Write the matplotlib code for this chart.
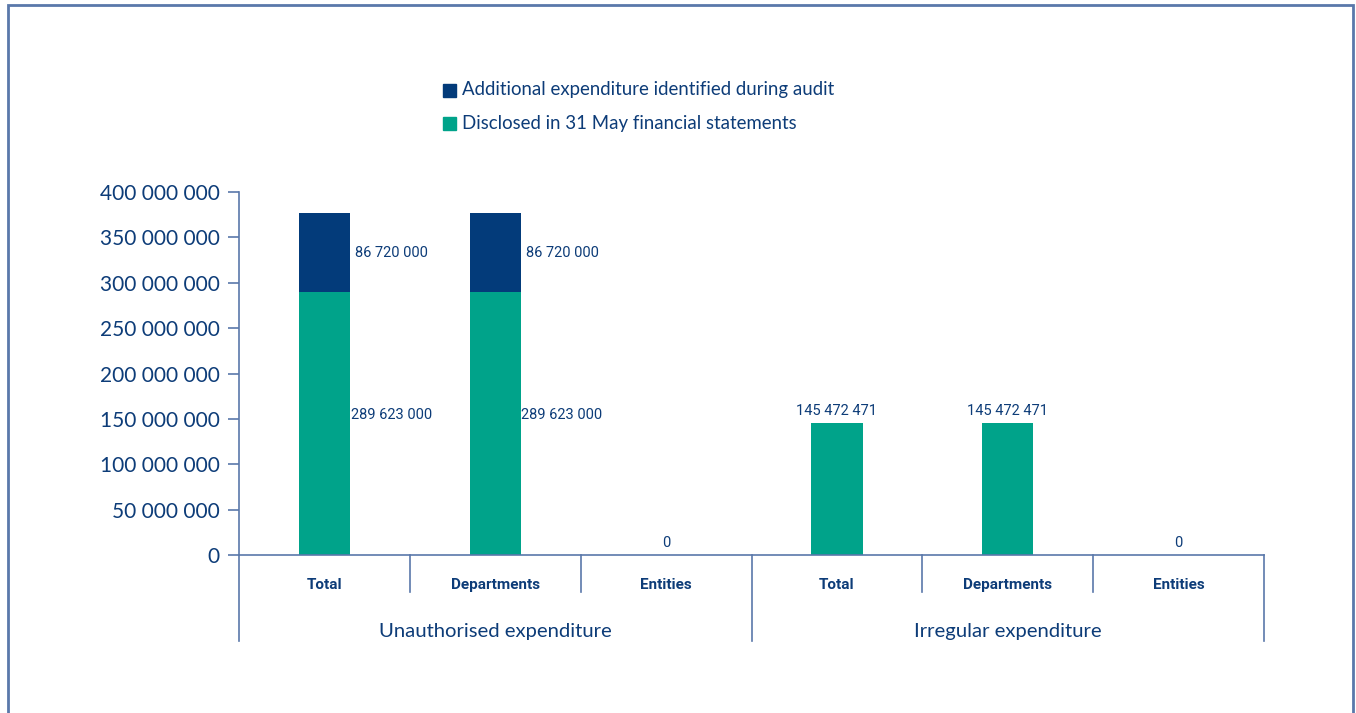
import numpy as np
import matplotlib
matplotlib.use("Agg")
import matplotlib.pyplot as plt
from matplotlib.patches import Rectangle
from matplotlib.ticker import FuncFormatter
import matplotlib.transforms as mtransforms

# chart data
categories = ["Total", "Departments", "Entities", "Total", "Departments", "Entities"]
groups = ["Unauthorised expenditure", "Irregular expenditure"]
disclosed = [289623000, 289623000, 0, 145472471, 145472471, 0]
additional = [86720000, 86720000, 0, 0, 0, 0]
series_names = ["Additional expenditure identified during audit",
                "Disclosed in 31 May financial statements"]

navy = "#033b7a"
teal = "#00a38a"
text_col = "#0d3c78"
line_col = "#5a78aa"

plt.rcParams['font.family'] = ['Lato', 'DejaVu Sans']
narrow = ['Roboto', 'DejaVu Sans']


def spaced(v):
    return "{:,}".format(int(v)).replace(",", " ")


fig = plt.figure(figsize=(13.56, 7.13), dpi=100)
ax = fig.add_axes([0.1763, 0.2216, 0.7559, 0.5091])

x = np.arange(len(categories))
ax.bar(x, disclosed, width=0.30, color=teal, zorder=2)
ax.bar(x, additional, width=0.30, bottom=disclosed, color=navy, zorder=2)

ax.set_xlim(-0.5, len(categories) - 0.5)
ax.set_ylim(0, 400000000)
ax.set_yticks(np.arange(0, 400000001, 50000000))
ax.yaxis.set_major_formatter(FuncFormatter(lambda v, p: spaced(v)))
ax.tick_params(axis='y', colors=line_col, length=8, width=1.2, labelsize=15, labelcolor=text_col, pad=6)
ax.set_xticks([])

for s in ['top', 'right']:
    ax.spines[s].set_visible(False)
for s in ['left', 'bottom']:
    ax.spines[s].set_color(line_col)
    ax.spines[s].set_linewidth(1.2)

# value labels
for i in range(len(categories)):
    d = disclosed[i]
    a = additional[i]
    if a > 0:
        ax.text(i + 0.39, d + a / 2, spaced(a), ha='center', va='center',
                fontsize=10.5, color=text_col, family=narrow)
        ax.text(i + 0.39, d / 2 + 10000000, spaced(d), ha='center', va='center',
                fontsize=10.5, color=text_col, family=narrow)
    else:
        ax.text(i, d + 6000000, spaced(d), ha='center', va='bottom',
                fontsize=10.5, color=text_col, family=narrow)

# category labels and separators below the axis
trans = mtransforms.blended_transform_factory(ax.transData, ax.transAxes)
for i, c in enumerate(categories):
    ax.text(i, -0.082, c, transform=trans, ha='center', va='center', fontsize=11,
            fontweight='bold', color=text_col, family=narrow)
for i in range(len(categories) + 1):
    xs = i - 0.5
    bottom = -0.237 if i % 3 == 0 else -0.102
    ax.plot([xs, xs], [0, bottom], transform=trans, color=line_col, lw=1.2, clip_on=False)
for g, name in enumerate(groups):
    ax.text(g * 3 + 1, -0.21, name, transform=trans, ha='center', va='center',
            fontsize=14.6, color=text_col)

# legend
colors = [navy, teal]
for k, name in enumerate(series_names):
    y = 1 - (90 + 33 * k) / 713
    fig.patches.append(Rectangle((443 / 1356, y - 7 / 713), 13 / 1356, 13 / 713,
                                 transform=fig.transFigure, color=colors[k]))
    fig.text(462 / 1356, y, name, ha='left', va='center', fontsize=13.4, color=text_col)

# outer frame
fig.patches.append(Rectangle((8 / 1356, -0.02), 1345 / 1356, 1.02 - 5 / 713,
                             transform=fig.transFigure, fill=False, edgecolor=line_col, lw=2))

fig.savefig("out.png", dpi=100)
